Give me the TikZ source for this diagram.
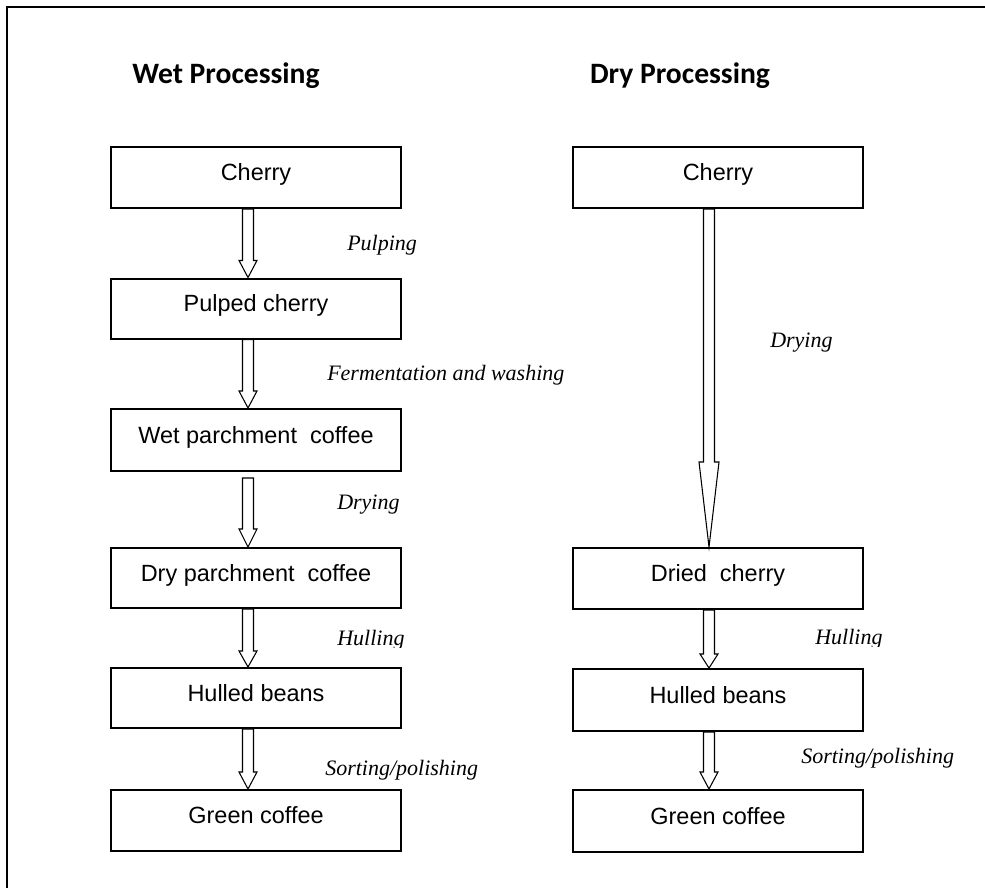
\documentclass[tikz,border=0pt]{standalone}
\usepackage{fontspec}
\setmainfont{Liberation Sans}
\newfontfamily\headfont{Carlito}
\newfontfamily\labfont{Liberation Serif}
\usetikzlibrary{calc}
% block arrow: #1 x-coordinate name, #2 from node, #3 to node, #4 top gap, #5 head length, #6 head half width
\newcommand\barrow[6]{%
  \path (#2.south -| #1) coordinate (bs) (#3.north -| #1) coordinate (bt);
  \draw[blk] ($(bs)+(-5.5,#4)$) -- ($(bt)+(-5.5,-#5)$) -- ($(bt)+(-#6,-#5)$) -- (bt)
    -- ($(bt)+(#6,-#5)$) -- ($(bt)+(5.5,-#5)$) -- ($(bs)+(5.5,#4)$) -- cycle;
}
\begin{document}
\begin{tikzpicture}[x=0.75pt,y=-0.75pt,
  box/.style={draw,line width=1.5pt,minimum width=217.5pt,minimum height=45pt,inner sep=0pt,
    font=\fontsize{17.6}{20}\selectfont,text height=12pt,text depth=7.5pt},
  blk/.style={draw,line width=0.8pt,fill=white,line join=miter},
  lab/.style={font=\labfont\itshape\fontsize{16.5}{19}\selectfont,inner sep=0pt},
  head/.style={font=\headfont\bfseries\fontsize{22.2}{25}\selectfont,inner sep=0pt}]
\useasboundingbox (0,0) rectangle (985,888);
% frame
\draw[line width=1.6pt] (7,888) -- (7,7) -- (985,7);
% headings
\node[head] (hw) at (226,76) {Wet Processing};
\node[head] (hd) at (680,76) {Dry Processing};
% wet column
\node[box,minimum height=45.75pt] (w1) at (256,177.5) {Cherry};
\node[box] (w2) at (256,308.5) {Pulped cherry};
\node[box,minimum height=46.5pt] (w3) at (256,440) {Wet parchment~ coffee};
\node[box] (w4) at (256,578) {Dry parchment~ coffee};
\node[box] (w5) at (256,698) {Hulled beans};
\node[box,minimum height=45.75pt] (w6) at (256,820.5) {Green coffee};
% dry column
\node[box,minimum height=45.75pt] (d1) at (718,177.5) {Cherry};
\node[box,minimum height=45.75pt] (d2) at (718,578.5) {Dried~ cherry};
\node[box,minimum height=46.5pt] (d3) at (718,700) {Hulled beans};
\node[box,minimum height=46.5pt] (d4) at (718,821) {Green coffee};
% arrow axes
\coordinate (wx) at (248,0);
\coordinate (dx) at (709,0);
\barrow{wx}{w1}{w2}{0}{17}{9}
\barrow{wx}{w2}{w3}{0}{17}{9}
\barrow{wx}{w3}{w4}{6}{18}{9}
\barrow{wx}{w4}{w5}{0}{16}{9}
\barrow{wx}{w5}{w6}{0}{17}{9}
\barrow{dx}{d1}{d2}{0}{85}{10}
\barrow{dx}{d2}{d3}{0}{14}{9}
\barrow{dx}{d3}{d4}{0}{17}{9}
% labels
\node[lab,anchor=west] (l1) at (347,245) {Pulping};
\node[lab,anchor=west] (l2) at (327,375) {Fermentation and washing};
\node[lab,anchor=west] (l3) at (337,505) {Drying};
\begin{scope}
  \clip (320,615) rectangle (470,647);
  \node[lab,anchor=west] (l4) at (337,640) {Hulling};
\end{scope}
\node[lab,anchor=west] (l5) at (325,770) {Sorting/polishing};
\node[lab,anchor=west] (l6) at (770,343) {Drying};
\begin{scope}
  \clip (800,615) rectangle (950,646);
  \node[lab,anchor=west] (l7) at (815,639) {Hulling};
\end{scope}
\node[lab,anchor=west] (l8) at (801,758) {Sorting/polishing};
\end{tikzpicture}
\end{document}
